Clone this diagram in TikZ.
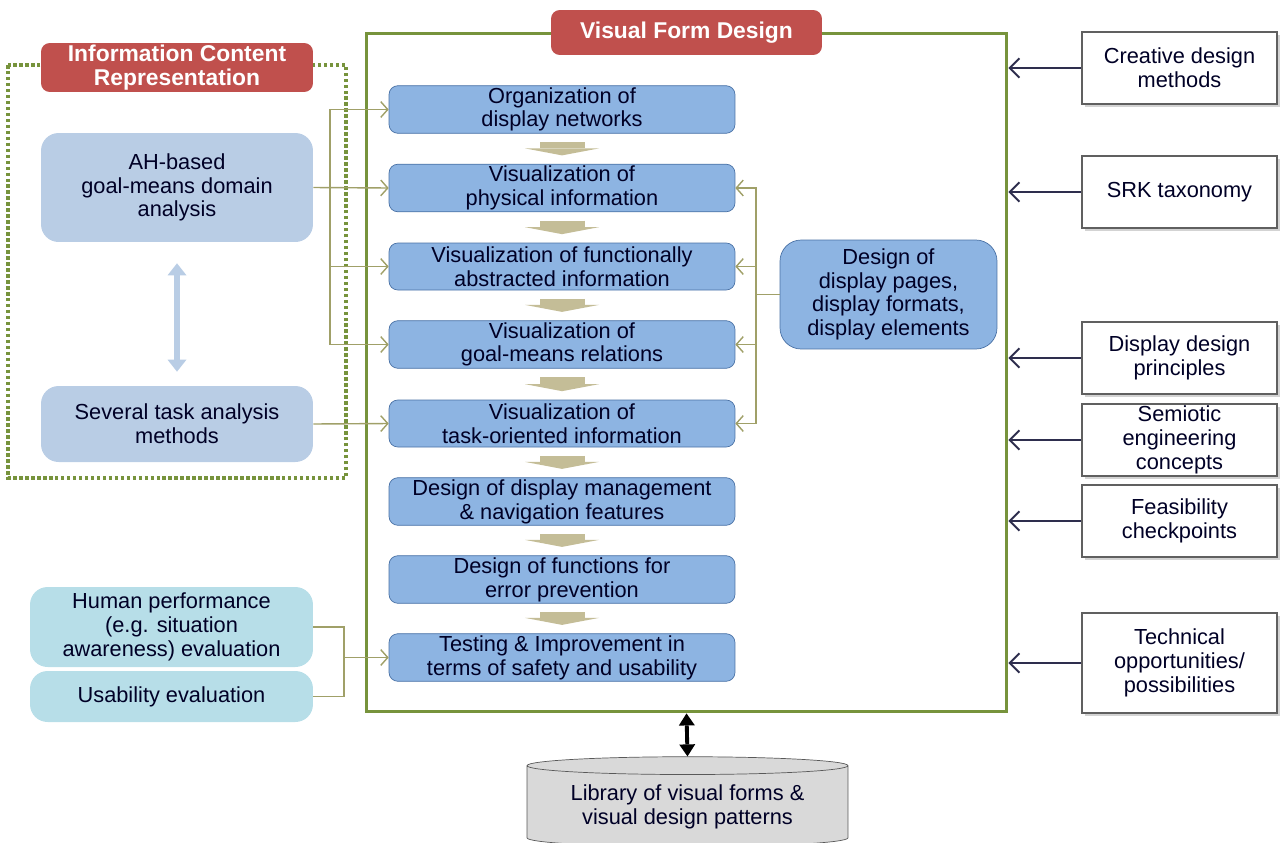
\documentclass[tikz,border=0pt]{standalone}
\usepackage{fontspec}
\setmainfont{Liberation Sans}
\usepackage{xcolor}
\definecolor{vfdred}{HTML}{C0504D}
\definecolor{framegreen}{HTML}{77933C}
\definecolor{procblue}{HTML}{8DB4E2}
\definecolor{procedge}{HTML}{4A72A6}
\definecolor{ahblue}{HTML}{B9CDE5}
\definecolor{evalcyan}{HTML}{B7DEE8}
\definecolor{flowtan}{HTML}{C4BD97}
\definecolor{feedolive}{HTML}{A0A068}
\definecolor{ctxnavy}{HTML}{2E2E4E}
\usetikzlibrary{shapes.geometric,arrows.meta,shadows}

\begin{document}
\begin{tikzpicture}[x=0.02cm,y=-0.02cm,
  txt/.style={font=\fontsize{12.4}{13.5}\selectfont,align=center,inner sep=1pt,text=black!85!blue},
  title/.style={fill=vfdred,rounded corners=5pt,text=white,inner sep=1pt,
                font=\fontsize{13}{13.6}\selectfont\bfseries,align=center},
  procbox/.style={txt,draw=procedge,fill=procblue,rounded corners=5pt,
                  minimum width=6.92cm,minimum height=0.94cm},
  srcbox/.style={txt,fill=#1,rounded corners=10pt,minimum width=5.44cm},
  ctxbox/.style={txt,draw=gray!75!black,line width=1.3pt,fill=white,
                 drop shadow={shadow xshift=1.5pt,shadow yshift=-1.5pt,opacity=0.35},
                 minimum width=3.9cm,minimum height=1.44cm},
  flow/.style={flowtan,line width=0.9cm,shorten <=0.17cm,shorten >=0.17cm,
               -{Triangle[width=1.48cm,length=0.14cm,line width=0pt]}},
  feed/.style={feedolive,line width=0.8pt,-{Straight Barb[length=4pt,width=9pt]}},
  feedline/.style={feedolive,line width=0.8pt},
  ctx/.style={ctxnavy,line width=1.1pt,-{Straight Barb[length=5.5pt,width=11pt]}}
]
\useasboundingbox (0,0) rectangle (1284,842);

% frames and titles
\node[draw=framegreen,line width=1.7pt,fill=white,
      minimum width=12.82cm,minimum height=13.58cm] (vfd) at (686.5,372.5) {};
\draw[framegreen,line width=2pt,dash pattern=on 2pt off 1.4pt] (8,65) rectangle (346,478);
\node[title,minimum width=5.42cm,minimum height=0.9cm] (vfdtitle) at (686.5,32.5) {Visual Form Design};
\node[title,minimum width=5.44cm,minimum height=0.98cm] (icrtitle) at (177,67.5)
  {Information Content\\Representation};

% information content side
\node[srcbox=ahblue,minimum height=2.18cm] (ah) at (177,187.5)
  {AH-based\\goal-means  domain\\analysis};
\node[srcbox=ahblue,minimum height=1.52cm] (several) at (177,424)
  {Several task analysis\\methods};
\draw[ahblue,line width=3.2pt,shorten <=0.42cm,shorten >=0.28cm,
      {Triangle[width=0.38cm,length=0.24cm,line width=0pt]}-{Triangle[width=0.38cm,length=0.24cm,line width=0pt]}]
  (ah) -- (several);

% evaluation side
\node[srcbox=evalcyan,minimum width=5.66cm,minimum height=1.6cm] (human) at (171.5,627)
  {Human performance\\(e.g. situation\\awareness) evaluation};
\node[srcbox=evalcyan,minimum width=5.66cm,minimum height=1.02cm] (usab) at (171.5,696.5)
  {Usability evaluation};

% design steps
\node[procbox] (org)  at (562,109.5) {Organization of\\display networks};
\node[procbox] (phys) at (562,188)   {Visualization of\\physical information};
\node[procbox] (func) at (562,266.5) {Visualization of  functionally\\abstracted information};
\node[procbox] (goal) at (562,344.5) {Visualization of\\goal-means relations};
\node[procbox] (task) at (562,423.5) {Visualization of\\task-oriented information};
\node[procbox] (nav)  at (562,501.5) {Design of display management\\\& navigation features};
\node[procbox] (err)  at (562,579.5) {Design of functions for\\error prevention};
\node[procbox] (test) at (562,657.5) {Testing \& Improvement  in\\terms of safety and usability};
\foreach \a/\b in {org/phys,phys/func,func/goal,goal/task,task/nav,nav/err,err/test}
  \draw[flow] (\a) -- (\b);

\node[txt,draw=procedge,fill=procblue,rounded corners=12pt,
      minimum width=4.34cm,minimum height=2.18cm] (pages) at (888.5,294.5)
  {Design of\\display pages,\\display formats,\\display elements};

% feeds into the steps
\coordinate (ltrunk) at (330,0);
\coordinate (etrunk) at (344,0);
\coordinate (rtrunk) at (756,0);
\draw[feed] (ah.east) -- (phys.west);
\foreach \n in {org,func,goal}
  \draw[feed] (ltrunk |- phys.west) |- (\n.west);
\draw[feed] (several.east) -- (task.west);
\draw[feedline] (human.east) -| (etrunk |- usab.east) -- (usab.east);
\draw[feed] (etrunk |- test.west) -- (test.west);
\draw[feedline] (pages.west) -- (rtrunk |- pages.west);
\foreach \n in {phys,func,goal,task}
  \draw[feed] (rtrunk |- pages.west) |- (\n.east);

% context inputs
\node[ctxbox] (creative) at (1179.5,68)  {Creative design\\methods};
\node[ctxbox] (srk)      at (1179.5,192) {SRK taxonomy};
\node[ctxbox] (ddp)      at (1179.5,358) {Display design\\principles};
\node[ctxbox] (semio)    at (1179.5,440) {Semiotic\\engineering\\concepts};
\node[ctxbox] (feas)     at (1179.5,521) {Feasibility\\checkpoints};
\node[ctxbox,minimum height=2cm] (tech) at (1179.5,663) {Technical\\opportunities/\\possibilities};
\foreach \n in {creative,srk,ddp,semio,feas,tech}
  \draw[ctx] (\n.west) -- (\n.west -| vfd.east);

% pattern library
\node[txt,cylinder,shape border rotate=90,aspect=0.075,draw=gray!70!black,fill=gray!30,
      minimum width=6.42cm,minimum height=1.8cm] (lib) at (687.5,807)
  {Library of visual forms \&\\visual  design patterns};
\draw[black,line width=2.2pt,
      {Triangle[width=0.32cm,length=0.24cm,line width=0pt]}-{Triangle[width=0.32cm,length=0.24cm,line width=0pt]}]
  (vfd.south) -- (lib.north);
\end{tikzpicture}
\end{document}
